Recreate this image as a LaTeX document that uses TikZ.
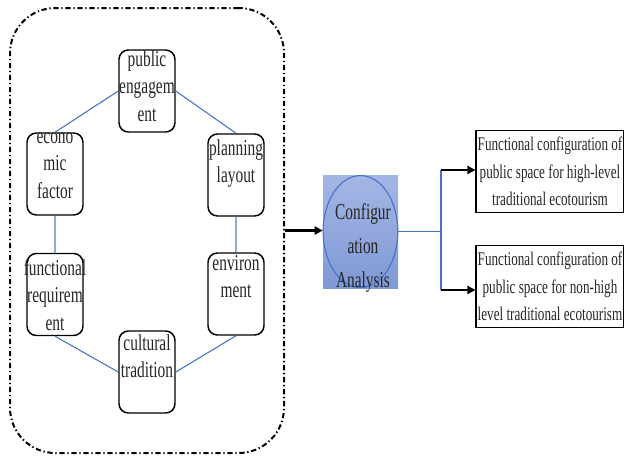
\documentclass[tikz,border=0pt]{standalone}
\usepackage{fontspec}
\setmainfont[FakeStretch=0.68]{Liberation Serif}
\usetikzlibrary{arrows.meta,shapes.geometric,positioning}

\definecolor{linkblue}{HTML}{4472C4}
\definecolor{paleblue}{HTML}{8FAADC}
\definecolor{boxtop}{HTML}{A4B6E4}
\definecolor{boxbot}{HTML}{7F99D6}

\tikzset{
  factor/.style={draw, line width=1.1pt, rounded corners=7pt, minimum width=42pt, minimum height=61.5pt, inner sep=0pt},
  ftext/.style={anchor=north, align=center, inner sep=0pt, font=\fontsize{17}{20.5}\selectfont, text=black!85},
  link/.style={draw=linkblue, line width=0.8pt},
  feed/.style={line width=1.6pt, -{Triangle[length=6pt,width=6pt]}},
  result/.style={draw, line width=0.9pt, minimum width=111pt, minimum height=61pt, align=center, inner sep=0pt, font=\fontsize{14.5}{20.5}\selectfont, text=black!85},
}

\begin{document}
\begin{tikzpicture}[x=0.75pt, y=-0.75pt]
  \useasboundingbox (0,0) rectangle (624,455);

  % group of factors
  \node[draw, line width=1.5pt, dash pattern=on 4pt off 2pt on 1pt off 2pt, rounded corners=34pt, minimum width=205.5pt, minimum height=333.75pt] (group) at (147,230.5) {};

  \node[factor] (pub) at (147,91) {};
  \node[factor] (eco) at (55,174) {};
  \node[factor] (plan) at (236,175) {};
  \node[factor] (func) at (55,294.5) {};
  \node[factor] (env) at (236,294) {};
  \node[factor] (cult) at (147,372) {};

  \node[ftext] (pubt) at (147,47) {\strut public\\engagem\\ent};
  \node[ftext] (ecot) at (55,124) {\strut econo\\mic\\factor};
  \node[ftext] (plant) at (236,136) {\strut planning\\layout};
  \node[ftext] (funct) at (55,256) {\strut functional\\requirem\\ent};
  \node[ftext] (envt) at (236,251) {\strut environ\\ment};
  \node[ftext] (cultt) at (147,331) {\strut cultural\\tradition};

  \draw[link] (pub.west) -- (eco.north);
  \draw[link] (pub.east) -- (plan.north);
  \draw[link, draw=paleblue] (eco.south) -- (func.north);
  \draw[link, draw=paleblue] (plan.south) -- (env.north);
  \draw[link] (func.south) -- (cult.west);
  \draw[link] (env.south) -- (cult.east);

  % analysis
  \node[top color=boxtop, bottom color=boxbot, minimum width=56.25pt, minimum height=84.75pt, inner sep=0pt] (cfg) at (360.5,231.5) {};
  \node[ellipse, draw=linkblue, line width=0.8pt, minimum width=56pt, minimum height=84pt, inner sep=0pt] (cfge) at (360.5,231.5) {};
  \node[ftext, font=\fontsize{17}{25.5}\selectfont] (cfgt) at (363,195) {\strut Configur\\ation\\Analysis};

  \draw[feed] (group.east) -- (group.east -| cfg.west);

  % results
  \node[result] (high) at (550,171.5) {Functional configuration of\\public space for high-level\\traditional ecotourism};
  \node[result] (low) at (550,286.5) {Functional configuration of\\public space for non-high\\level traditional ecotourism};

  \coordinate (split) at (441,231.5);
  \coordinate (up) at (441,170);
  \coordinate (dn) at (441,290);
  \draw[link] (cfg.east) -- (split);
  \draw[link] (up) -- (dn);
  \draw[feed] (up) -- (up -| high.west);
  \draw[feed] (dn) -- (dn -| low.west);
\end{tikzpicture}
\end{document}
